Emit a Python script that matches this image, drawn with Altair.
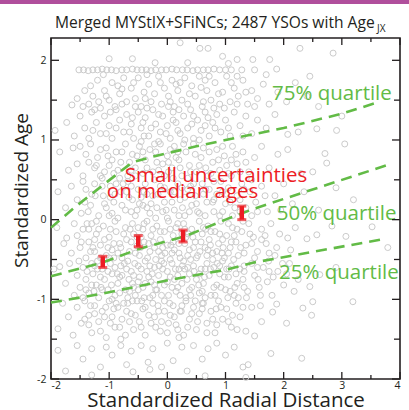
import altair as alt
import pandas as pd

W, H = 349, 341

# ---------------- data ----------------
scatter_pts = [
    # band at the upper age limit
    (-1.52,1.88),(-1.44,1.88),(-1.36,1.87),(-1.28,1.88),(-1.2,1.88),(-1.12,1.89),(-1.04,1.88),(-0.96,1.88),
    (-0.88,1.87),(-0.78,1.88),(-0.7,1.88),(-0.6,1.89),(-0.52,1.88),(-0.44,1.88),(-0.36,1.88),(-0.28,1.87),
    (-0.2,1.88),(-0.1,1.88),(-0.02,1.88),(0.08,1.89),(0.16,1.88),(0.26,1.88),(0.34,1.88),(0.44,1.87),
    (0.52,1.88),(0.62,1.88),(0.7,1.88),(0.8,1.89),(0.9,1.88),(1.0,1.88),(1.1,1.88),(1.28,1.88),(1.5,1.88),(1.88,1.89),
    # above the band
    (-1.0,2.02),(-0.21,1.97),(0.22,2.22),(0.56,2.15),(0.7,2.15),(0.35,1.97),(1.2,2.01),(1.47,2.01),(1.76,2.01),
    (2.28,2.15),(2.85,2.09),(0.95,2.05),(-0.6,2.02),(1.05,1.96),
    # 1.4 .. 1.85
    (-1.64,1.44),(-1.55,1.52),(-1.42,1.62),(-1.35,1.45),(-1.28,1.55),(-1.2,1.75),(-1.15,1.4),(-1.08,1.62),
    (-1.0,1.5),(-0.95,1.72),(-0.9,1.42),(-0.82,1.58),(-0.75,1.78),(-0.7,1.48),(-0.62,1.65),(-0.55,1.52),
    (-0.5,1.78),(-0.45,1.42),(-0.4,1.6),(-0.32,1.7),(-0.28,1.48),(-0.22,1.58),(-0.15,1.8),(-0.1,1.45),
    (-0.05,1.65),(0.02,1.55),(0.08,1.75),(0.12,1.42),(0.18,1.62),(0.25,1.5),(0.3,1.78),(0.35,1.45),
    (0.42,1.68),(0.48,1.55),(0.55,1.8),(0.6,1.42),(0.68,1.62),(0.75,1.5),(0.82,1.72),(0.9,1.45),
    (0.95,1.6),(1.02,1.8),(1.08,1.48),(1.15,1.65),(1.22,1.55),(1.3,1.75),(1.38,1.45),(1.45,1.62),
    (1.55,1.52),(1.65,1.7),(1.75,1.45),(1.9,1.6),(2.05,1.48),(2.2,1.72),(2.4,1.55),(2.6,1.42),
    (-0.85,1.68),(-0.35,1.82),(0.15,1.7),(0.65,1.75),(-1.1,1.82),(1.2,1.8),(1.7,1.82),(2.45,1.8),
    (-1.32,1.68),(-1.05,1.55),(-0.78,1.64),(-0.58,1.72),(-0.38,1.52),(-0.12,1.72),(0.05,1.48),(0.22,1.72),
    (0.38,1.58),(0.58,1.66),(0.72,1.8),(0.88,1.58),(1.1,1.72),(1.35,1.6),
    # 1.0 .. 1.4
    (-1.93,1.12),(-1.73,1.22),(-1.6,1.05),(-1.5,1.3),(-1.42,1.15),(-1.35,1.02),(-1.3,1.35),(-1.22,1.22),
    (-1.15,1.08),(-1.08,1.3),(-1.0,1.18),(-0.95,1.02),(-0.88,1.38),(-0.82,1.25),(-0.75,1.1),(-0.7,1.32),
    (-0.62,1.2),(-0.58,1.02),(-0.5,1.35),(-0.45,1.15),(-0.38,1.28),(-0.32,1.05),(-0.25,1.38),(-0.2,1.2),
    (-0.12,1.1),(-0.08,1.3),(0.0,1.18),(0.05,1.02),(0.1,1.35),(0.15,1.22),(0.22,1.08),(0.28,1.3),
    (0.35,1.15),(0.4,1.38),(0.45,1.02),(0.52,1.25),(0.58,1.12),(0.65,1.35),(0.72,1.05),(0.78,1.22),
    (0.85,1.32),(0.92,1.1),(1.0,1.25),(1.08,1.05),(1.15,1.35),(1.25,1.18),(1.35,1.3),(1.45,1.08),
    (1.55,1.25),(1.7,1.15),(1.85,1.32),(2.07,1.07),(2.25,1.1),(2.57,1.14),(2.91,1.12),(3.0,1.3),
    (-0.6,1.28),(0.3,1.0),(-1.25,1.38),(0.65,1.18),
    (-1.45,1.42),(-1.18,1.48),(-0.98,1.35),(-0.78,1.45),(-0.55,1.42),(-0.35,1.4),(-0.15,1.32),(0.02,1.42),
    (0.2,1.38),(0.45,1.3),(0.62,1.48),(0.8,1.4),(0.98,1.4),(1.2,1.45),(1.5,1.42),(-0.42,1.22),(0.1,1.25),(0.7,1.28),
    (-1.28,1.12),(-1.05,1.08),(-0.88,1.15),(-0.65,1.1),(-0.4,1.05),(-0.28,1.15),(-0.02,1.08),(0.18,1.12),
    (0.42,1.2),(0.55,1.0),(0.82,1.15),(1.05,1.15),(1.3,1.05),(-0.15,0.98),
    # 0.5 .. 1.0
    (-1.85,0.85),(-1.7,0.62),(-1.62,0.9),(-1.55,0.7),(-1.45,0.55),(-1.4,0.82),(-1.32,0.95),(-1.25,0.65),
    (-1.2,0.78),(-1.12,0.52),(-1.05,0.9),(-1.0,0.68),(-0.92,0.58),(-0.88,0.85),(-0.8,0.72),(-0.72,0.95),
    (-0.68,0.55),(-0.6,0.82),(-0.55,0.65),(-0.48,0.92),(-0.42,0.58),(-0.38,0.75),(-0.3,0.88),(-0.25,0.6),
    (-0.18,0.72),(-0.12,0.95),(-0.05,0.55),(0.0,0.8),(0.08,0.65),(0.12,0.92),(0.2,0.75),(0.25,0.55),
    (0.32,0.85),(0.38,0.68),(0.45,0.95),(0.5,0.6),(0.58,0.78),(0.62,0.9),(0.7,0.55),(0.78,0.72),
    (0.85,0.88),(0.9,0.62),(0.98,0.8),(1.05,0.58),(1.12,0.92),(1.2,0.7),(1.3,0.85),(1.4,0.6),
    (1.5,0.78),(1.62,0.92),(1.75,0.65),(1.9,0.82),(2.07,0.88),(2.3,0.58),(2.5,0.6),(2.74,0.71),
    (2.71,0.83),(3.05,0.95),(-0.95,0.75),(0.35,0.52),(-0.2,0.85),
    (-1.5,0.92),(-1.35,0.72),(-1.15,0.88),(-1.02,0.8),(-0.85,0.62),(-0.65,0.72),(-0.52,0.8),(-0.35,0.65),
    (-0.22,0.95),(-0.08,0.7),(0.05,0.88),(0.22,0.65),(0.28,0.95),(0.48,0.82),(0.55,0.68),(0.72,0.85),
    (0.88,0.75),(1.02,0.68),(1.18,0.82),(1.35,0.72),(-0.45,0.98),(0.15,0.78),
    (-1.22,0.68),(-1.08,0.6),(-0.78,0.85),(-0.62,0.62),(-0.42,0.85),(-0.15,0.62),(0.02,0.72),(0.18,0.85),
    (0.4,0.6),(0.66,0.65),(0.95,0.92),(1.1,0.75),(1.25,0.6),
    # 0.0 .. 0.5
    (-1.88,0.35),(-1.75,0.15),(-1.65,0.42),(-1.55,0.25),(-1.48,0.08),(-1.4,0.38),(-1.32,0.18),(-1.25,0.45),
    (-1.18,0.05),(-1.1,0.3),(-1.05,0.15),(-0.98,0.42),(-0.92,0.22),(-0.85,0.02),(-0.8,0.35),(-0.72,0.12),
    (-0.68,0.48),(-0.6,0.25),(-0.55,0.05),(-0.5,0.38),(-0.42,0.18),(-0.38,0.45),(-0.3,0.08),(-0.25,0.3),
    (-0.18,0.15),(-0.12,0.42),(-0.05,0.22),(0.0,0.02),(0.05,0.35),(0.12,0.12),(0.18,0.45),(0.22,0.25),
    (0.3,0.05),(0.35,0.38),(0.42,0.18),(0.48,0.3),(0.55,0.08),(0.6,0.45),(0.68,0.22),(0.72,0.38),
    (0.8,0.1),(0.85,0.32),(0.92,0.48),(1.0,0.2),(1.05,0.4),(1.12,0.05),(1.2,0.3),(1.28,0.45),
    (1.35,0.15),(1.42,0.35),(1.52,0.22),(1.62,0.42),(1.72,0.1),(1.85,0.3),(2.0,0.45),(2.15,0.2),
    (2.35,0.35),(2.6,0.12),(2.9,0.4),(3.2,0.25),(-0.88,0.45),(0.25,0.4),(0.8,0.48),(-0.45,0.28),
    (-1.45,0.48),(-1.3,0.32),(-1.15,0.55),(-0.98,0.28),(-0.82,0.52),(-0.7,0.35),(-0.55,0.55),(-0.35,0.32),
    (-0.22,0.5),(-0.05,0.4),(0.1,0.52),(0.3,0.28),(0.45,0.45),(0.62,0.32),(0.75,0.58),(0.95,0.35),
    (1.1,0.55),(1.25,0.25),(1.45,0.5),(-0.62,0.42),(0.02,0.6),
    (-1.42,0.22),(-1.22,-0.02),(-1.08,0.2),(-0.95,0.08),(-0.78,0.18),(-0.62,0.1),(-0.48,0.2),(-0.35,0.15),
    (-0.2,0.02),(-0.08,0.1),(0.08,0.22),(0.2,0.05),(0.38,0.1),(0.5,0.2),(0.65,0.05),(0.78,0.22),
    (0.95,0.1),(1.08,0.22),(1.25,0.1),(1.45,0.05),(-1.35,-0.12),(-0.5,-0.1),(0.18,-0.05),(0.62,-0.1),(1.05,-0.05),
    (-1.36,0.1),(-1.24,0.3),(-1.12,0.42),(-1.0,0.05),(-0.9,0.32),(-0.76,0.45),(-0.66,0.28),(-0.52,0.12),
    (-0.4,0.35),(-0.28,0.2),(-0.16,0.32),(-0.02,0.12),(0.12,0.35),(0.26,0.15),(0.4,0.42),(0.52,0.1),
    (0.66,0.38),(0.8,0.25),(0.9,0.05),(1.02,0.32),(1.16,0.15),(1.32,0.38),(1.55,0.1),(1.68,0.3),(1.95,0.12),
    # -0.5 .. 0.0
    (-1.9,-0.1),(-1.78,-0.3),(-1.73,-0.23),(-1.65,-0.42),(-1.6,-0.05),(-1.55,-0.2),(-1.5,-0.35),(-1.45,-0.12),
    (-1.4,-0.48),(-1.35,-0.28),(-1.3,-0.05),(-1.25,-0.4),(-1.22,-0.18),(-1.15,-0.32),(-1.1,-0.08),(-1.05,-0.45),
    (-1.0,-0.22),(-0.95,-0.38),(-0.9,-0.02),(-0.88,-0.15),(-0.82,-0.3),(-0.78,-0.48),(-0.72,-0.1),(-0.7,-0.25),
    (-0.65,-0.4),(-0.6,-0.05),(-0.58,-0.18),(-0.52,-0.33),(-0.48,-0.45),(-0.42,-0.12),(-0.4,-0.28),(-0.35,-0.02),
    (-0.3,-0.4),(-0.28,-0.2),(-0.22,-0.35),(-0.18,-0.08),(-0.12,-0.25),(-0.1,-0.45),(-0.05,-0.15),(0.0,-0.32),
    (0.02,-0.02),(0.08,-0.42),(0.1,-0.2),(0.15,-0.1),(0.2,-0.3),(0.22,-0.48),(0.28,-0.05),(0.32,-0.22),
    (0.38,-0.38),(0.42,-0.12),(0.48,-0.28),(0.52,-0.45),(0.55,-0.02),(0.6,-0.18),(0.65,-0.35),(0.7,-0.08),
    (0.72,-0.25),(0.78,-0.42),(0.82,-0.15),(0.88,-0.3),(0.92,-0.02),(0.98,-0.48),(1.02,-0.2),(1.08,-0.35),
    (1.12,-0.1),(1.18,-0.28),(1.22,-0.45),(1.28,-0.15),(1.35,-0.32),(1.4,-0.05),(1.48,-0.22),(1.55,-0.4),
    (1.62,-0.12),(1.7,-0.3),(1.78,-0.05),(1.85,-0.45),(1.93,-0.18),(2.07,-0.23),(2.2,-0.1),(2.4,-0.24),
    (2.57,-0.19),(2.83,-0.08),(3.07,-0.21),(3.52,-0.09),(3.79,-0.35),(-1.25,-0.25),(-0.62,-0.28),(0.35,-0.45),
    (0.85,-0.4),(-0.15,-0.4),(1.3,-0.02),
    (-1.48,-0.28),(-1.32,-0.4),(-1.18,-0.12),(-1.08,-0.25),(-0.92,-0.3),(-0.85,-0.42),(-0.75,-0.18),(-0.55,-0.42),
    (-0.45,-0.22),(-0.32,-0.3),(-0.25,-0.12),(-0.08,-0.35),(0.05,-0.12),(0.12,-0.38),(0.25,-0.18),(0.45,-0.35),
    (0.58,-0.28),(0.68,-0.45),(0.75,-0.15),(0.95,-0.25),(1.05,-0.42),(1.15,-0.2),(1.32,-0.42),(1.45,-0.3),
    (1.62,-0.25),(1.75,-0.42),(-1.0,-0.48),(0.3,-0.3),
    (-1.38,-0.05),(-1.28,-0.35),(-0.98,-0.12),(-0.92,-0.48),(-0.64,-0.12),(-0.4,-0.05),(-0.34,-0.48),(-0.12,-0.15),
    (0.1,-0.28),(0.3,-0.12),(0.44,-0.22),(0.5,-0.48),(0.66,-0.12),(0.7,-0.38),(0.9,-0.18),(0.94,-0.42),
    (1.1,-0.28),(1.14,-0.5),(1.2,-0.12),(1.26,-0.35),(1.42,-0.18),(1.5,-0.48),(1.68,-0.2),(1.88,-0.35),
    (2.12,-0.38),(-1.15,-0.48),(-1.02,-0.35),(-0.8,-0.35),(-0.52,-0.22),(-0.46,-0.35),(-0.24,-0.28),(-0.04,-0.42),
    (0.06,-0.32),(0.2,-0.42),(0.36,-0.18),(0.56,-0.4),(0.74,-0.32),(0.96,-0.35),
    # -1.0 .. -0.5
    (-1.95,-0.62),(-1.85,-0.59),(-1.75,-0.8),(-1.68,-0.55),(-1.6,-0.95),(-1.55,-0.7),(-1.5,-0.85),(-1.45,-0.6),
    (-1.4,-0.75),(-1.35,-0.92),(-1.3,-0.55),(-1.28,-0.68),(-1.22,-0.82),(-1.18,-0.98),(-1.12,-0.62),(-1.08,-0.75),
    (-1.02,-0.88),(-0.98,-0.55),(-0.95,-0.68),(-0.9,-0.95),(-0.85,-0.8),(-0.8,-0.58),(-0.78,-0.7),(-0.72,-0.88),
    (-0.68,-0.52),(-0.62,-0.65),(-0.6,-0.8),(-0.55,-0.95),(-0.5,-0.58),(-0.48,-0.72),(-0.42,-0.85),(-0.38,-0.52),
    (-0.35,-0.65),(-0.3,-0.98),(-0.28,-0.78),(-0.22,-0.6),(-0.18,-0.88),(-0.15,-0.7),(-0.1,-0.52),(-0.05,-0.82),
    (0.0,-0.65),(0.02,-0.95),(0.08,-0.55),(0.12,-0.75),(0.15,-0.9),(0.2,-0.62),(0.25,-0.8),(0.28,-0.52),
    (0.32,-0.98),(0.38,-0.68),(0.42,-0.85),(0.45,-0.58),(0.5,-0.75),(0.55,-0.92),(0.58,-0.62),(0.62,-0.8),
    (0.68,-0.55),(0.72,-0.7),(0.75,-0.95),(0.8,-0.6),(0.85,-0.82),(0.9,-0.68),(0.95,-0.52),(1.0,-0.88),
    (1.05,-0.72),(1.1,-0.58),(1.15,-0.95),(1.2,-0.8),(1.25,-0.62),(1.3,-0.75),(1.38,-0.9),(1.45,-0.55),
    (1.5,-0.7),(1.58,-0.85),(1.65,-0.6),(1.72,-0.78),(1.8,-0.95),(1.9,-0.65),(2.0,-0.82),(2.1,-0.55),
    (2.25,-0.75),(2.45,-0.84),(2.62,-0.69),(2.9,-0.6),(-0.65,-0.9),(0.05,-0.72),(0.65,-0.98),(-1.2,-0.52),
    (-0.25,-0.95),(0.35,-0.6),(1.22,-0.98),
    (-1.52,-0.52),(-1.38,-0.65),(-1.25,-0.58),(-1.15,-0.72),(-1.02,-0.65),(-0.9,-0.6),(-0.82,-0.72),(-0.7,-0.62),
    (-0.58,-0.7),(-0.45,-0.62),(-0.32,-0.72),(-0.2,-0.5),(-0.08,-0.62),(0.05,-0.5),(0.18,-0.7),(0.3,-0.62),
    (0.4,-0.5),(0.55,-0.68),(0.65,-0.62),(0.78,-0.5),(0.9,-0.58),(1.02,-0.62),(1.18,-0.68),(1.32,-0.58),
    (1.55,-0.6),(1.75,-0.65),(2.05,-0.68),
    (-1.45,-0.98),(-1.3,-0.82),(-1.12,-0.88),(-0.95,-1.0),(-0.82,-0.92),(-0.68,-0.98),(-0.5,-0.88),(-0.4,-0.98),
    (-0.22,-0.82),(-0.1,-0.95),(0.08,-0.85),(0.22,-0.95),(0.38,-0.88),(0.48,-1.02),(0.6,-0.9),(0.82,-0.95),
    (0.92,-0.85),(1.08,-0.9),(1.32,-0.85),(1.6,-0.95),(-0.58,-0.85),
    (-1.2,-0.62),(-1.14,-0.85),(-0.86,-0.68),(-0.56,-0.55),(-0.5,-0.78),(-0.26,-0.68),(-0.2,-0.88),(-0.06,-0.55),
    (0.0,-0.78),(0.14,-0.62),(0.18,-0.85),(0.34,-0.75),(0.4,-0.95),(0.54,-0.82),(0.74,-0.62),(0.8,-0.85),
    (0.98,-0.72),(1.04,-0.98),(1.32,-0.65),(1.56,-0.75),(1.74,-0.52),(1.82,-0.72),(1.98,-0.55),(2.18,-0.9),
    (-1.4,-0.88),(-1.26,-0.9),(-0.96,-0.82),(-0.74,-0.55),(-0.66,-0.75),(-0.38,-0.8),(-0.3,-0.58),(-0.14,-0.58),
    (0.26,-0.58),(0.46,-0.65),(0.64,-0.72),(0.86,-0.55),(1.06,-0.62),(1.16,-0.85),(1.36,-0.98),
    # -1.5 .. -1.0
    (-1.88,-1.37),(-1.8,-1.05),(-1.7,-1.22),(-1.62,-1.45),(-1.55,-1.1),(-1.48,-1.3),(-1.42,-1.02),(-1.35,-1.2),
    (-1.3,-1.42),(-1.25,-1.08),(-1.18,-1.28),(-1.12,-1.15),(-1.05,-1.48),(-1.0,-1.02),(-0.95,-1.22),(-0.9,-1.35),
    (-0.85,-1.1),(-0.78,-1.25),(-0.72,-1.45),(-0.68,-1.05),(-0.62,-1.18),(-0.58,-1.38),(-0.52,-1.02),(-0.48,-1.28),
    (-0.42,-1.12),(-0.38,-1.45),(-0.32,-1.2),(-0.25,-1.05),(-0.2,-1.35),(-0.15,-1.15),(-0.1,-1.28),(-0.05,-1.02),
    (0.0,-1.42),(0.05,-1.2),(0.1,-1.08),(0.15,-1.32),(0.22,-1.15),(0.28,-1.45),(0.32,-1.02),(0.38,-1.25),
    (0.45,-1.1),(0.5,-1.38),(0.55,-1.18),(0.62,-1.05),(0.68,-1.3),(0.75,-1.15),(0.82,-1.42),(0.88,-1.02),
    (0.95,-1.25),(1.02,-1.12),(1.1,-1.35),(1.18,-1.05),(1.25,-1.22),(1.35,-1.4),(1.45,-1.1),(1.5,-1.46),
    (1.62,-1.28),(1.81,-1.16),(1.88,-1.06),(2.05,-1.3),(2.33,-1.11),(2.48,-1.2),(2.5,-1.03),(3.19,-1.03),
    (-0.8,-1.5),(0.2,-1.48),
    (-1.42,-1.25),(-1.25,-1.18),(-1.08,-1.22),(-0.92,-1.12),(-0.75,-1.05),(-0.55,-1.2),(-0.38,-1.1),(-0.22,-1.22),
    (-0.05,-1.15),(0.12,-1.22),(0.25,-1.08),(0.42,-1.18),(0.6,-1.12),(0.78,-1.25),(0.92,-1.1),(1.12,-1.2),(1.3,-1.1),
    (-1.32,-1.08),(-1.06,-1.1),(-0.88,-1.05),(-0.7,-1.15),(-0.6,-1.02),(-0.44,-1.02),(-0.16,-1.08),(0.04,-1.05),
    (0.24,-1.15),(0.6,-1.05),(0.84,-1.12),(1.6,-1.08),
    (-1.35,-1.32),(-1.15,-1.4),(-0.98,-1.3),(-0.82,-1.35),(-0.65,-1.28),(-0.45,-1.35),(-0.28,-1.3),(-0.12,-1.4),
    (0.02,-1.3),(0.18,-1.38),(0.35,-1.35),(0.52,-1.28),(0.68,-1.42),(0.85,-1.32),(1.05,-1.28),(1.2,-1.38),
    # -2.0 .. -1.5
    (-1.88,-1.64),(-1.75,-1.9),(-1.55,-1.58),(-1.45,-1.75),(-1.3,-1.62),(-1.15,-1.85),(-1.05,-1.6),(-0.95,-1.7),
    (-0.8,-1.58),(-0.7,-1.82),(-0.62,-1.65),(-0.59,-1.91),(-0.45,-1.58),(-0.33,-1.79),(-0.25,-1.62),(-0.1,-1.85),
    (0.0,-1.55),(0.1,-1.77),(0.25,-1.6),(0.34,-1.9),(0.45,-1.58),(0.6,-1.75),(0.7,-1.62),(0.85,-1.55),
    (1.0,-1.7),(1.15,-1.6),(1.3,-1.85),(1.35,-1.98),(1.39,-1.82),(1.78,-1.68),(2.31,-1.74),(-0.3,-1.88),
    (0.65,-1.96),(-1.3,-1.95),
]

q75_x = [-2.0, -1.6, -1.2, -0.85, -0.6, -0.2, 0.5, 1.0, 2.0, 3.0, 3.65]
q75_y = [-0.1, 0.15, 0.38, 0.58, 0.72, 0.8, 0.92, 1.0, 1.15, 1.33, 1.48]
q50_x = [-2.0, -1.12, -0.5, 0.3, 1.0, 1.5, 3.8]
q50_y = [-0.71, -0.54, -0.37, -0.21, 0.0, 0.14, 0.69]
q25_x = [-2.0, -1.2, 0.08, 1.0, 1.47, 3.75]
q25_y = [-1.04, -0.94, -0.75, -0.63, -0.54, -0.24]

med_x = [-1.11, -0.5, 0.27, 1.28]
med_lo = [-0.6, -0.34, -0.28, 0.0]
med_hi = [-0.46, -0.2, -0.13, 0.17]

x_major = [-2, -1, 0, 1, 2, 3, 4]
x_minor = [-1.5, -0.5, 0.5, 1.5, 2.5, 3.5]
y_major = [-2, -1, 0, 1, 2]
y_minor = [-1.5, -0.5, 0.5, 1.5]

red_notes = [("Small uncertainties", -0.73, 0.475), ("on median ages", -1.04, 0.275)]
green_notes = [("75% quartile", 1.80, 1.5), ("50% quartile", 1.88, 0.0), ("25% quartile", 1.92, -0.75)]

title_main = "Merged MYStIX+SFiNCs; 2487 YSOs with Age"
title_sub = "JX"

# ---------------- styling ----------------
FONT = "Open Sans"
GREEN = "#62bb46"
RED = "#ed1c24"
GRAY = "#cbcbcb"
INK = "#231f20"

xs = alt.Scale(domain=[-2, 4], nice=False, zero=False)
ys = alt.Scale(domain=[-2, 2.28], nice=False, zero=False)

pts = pd.DataFrame(scatter_pts, columns=["x", "y"])
xenc = alt.X("x:Q", scale=xs,
             axis=alt.Axis(values=x_major, labelExpr="'' + datum.value", ticks=False, domain=False,
                           grid=False, labelFontSize=10.5, labelColor=INK, labelFont=FONT, labelPadding=1,
                           title="Standardized Radial Distance", titleFont=FONT, titleFontSize=20.5,
                           titleFontWeight="normal", titleColor=INK, titleY=27, titleBaseline="alphabetic"))
yenc = alt.Y("y:Q", scale=ys,
             axis=alt.Axis(values=y_major, labelExpr="'' + datum.value", ticks=False, domain=False,
                           grid=False, labelFontSize=10.5, labelColor=INK, labelFont=FONT, labelPadding=5,
                           title="Standardized Age", titleFont=FONT, titleFontSize=19,
                           titleFontWeight="normal", titleColor=INK, titleAngle=-90,
                           titleX=-30, titleY=152, titleAlign="center", titleBaseline="middle"))

scatter = alt.Chart(pts).mark_point(shape="circle", filled=False, size=36, strokeWidth=1,
                                    color=GRAY, opacity=1).encode(x=xenc, y=yenc)

qdf = pd.concat([
    pd.DataFrame({"x": q75_x, "y": q75_y, "q": "75"}),
    pd.DataFrame({"x": q50_x, "y": q50_y, "q": "50"}),
    pd.DataFrame({"x": q25_x, "y": q25_y, "q": "25"}),
])
qlines = alt.Chart(qdf).mark_line(color=GREEN, strokeWidth=2.6, strokeDash=[11, 7]).encode(
    x=alt.X("x:Q", scale=xs), y=alt.Y("y:Q", scale=ys), detail="q:N")

mdf = pd.DataFrame({"x": med_x, "lo": med_lo, "hi": med_hi})
ebar = alt.Chart(mdf).mark_rule(color=RED, strokeWidth=4.5).encode(
    x=alt.X("x:Q", scale=xs), y=alt.Y("lo:Q", scale=ys), y2="hi:Q")
cap_lo = alt.Chart(mdf).mark_tick(color=RED, orient="horizontal", size=9, thickness=3).encode(
    x=alt.X("x:Q", scale=xs), y=alt.Y("lo:Q", scale=ys))
cap_hi = alt.Chart(mdf).mark_tick(color=RED, orient="horizontal", size=9, thickness=3).encode(
    x=alt.X("x:Q", scale=xs), y=alt.Y("hi:Q", scale=ys))

rdf = pd.DataFrame(red_notes, columns=["t", "x", "y"])
red_text = alt.Chart(rdf).mark_text(color=RED, font=FONT, fontSize=20.5, align="left",
                                    baseline="alphabetic").encode(
    x=alt.X("x:Q", scale=xs), y=alt.Y("y:Q", scale=ys), text="t:N")
gdf = pd.DataFrame(green_notes, columns=["t", "x", "y"])
green_text = alt.Chart(gdf).mark_text(color=GREEN, font=FONT, fontSize=20.5, align="left",
                                      baseline="alphabetic").encode(
    x=alt.X("x:Q", scale=xs), y=alt.Y("y:Q", scale=ys), text="t:N")

# inward ticks on all four sides
xmaj = pd.DataFrame({"v": x_major})
xmin = pd.DataFrame({"v": x_minor})
ymaj = pd.DataFrame({"v": y_major})
ymin = pd.DataFrame({"v": y_minor})
tick_style = dict(color=INK, strokeWidth=1.3)
ticks = [
    alt.Chart(xmaj).mark_rule(**tick_style).encode(x=alt.X("v:Q", scale=xs), y=alt.value(H), y2=alt.value(H - 7)),
    alt.Chart(xmin).mark_rule(**tick_style).encode(x=alt.X("v:Q", scale=xs), y=alt.value(H), y2=alt.value(H - 4)),
    alt.Chart(xmaj).mark_rule(**tick_style).encode(x=alt.X("v:Q", scale=xs), y=alt.value(0), y2=alt.value(7)),
    alt.Chart(xmin).mark_rule(**tick_style).encode(x=alt.X("v:Q", scale=xs), y=alt.value(0), y2=alt.value(4)),
    alt.Chart(ymaj).mark_rule(**tick_style).encode(y=alt.Y("v:Q", scale=ys), x=alt.value(0), x2=alt.value(8)),
    alt.Chart(ymin).mark_rule(**tick_style).encode(y=alt.Y("v:Q", scale=ys), x=alt.value(0), x2=alt.value(6)),
    alt.Chart(ymaj).mark_rule(**tick_style).encode(y=alt.Y("v:Q", scale=ys), x=alt.value(W), x2=alt.value(W - 8)),
    alt.Chart(ymin).mark_rule(**tick_style).encode(y=alt.Y("v:Q", scale=ys), x=alt.value(W), x2=alt.value(W - 6)),
]

tdf = pd.DataFrame({"t": [title_main]})
title_txt = alt.Chart(tdf).mark_text(color=INK, font=FONT, fontSize=15.6, align="left",
                                     baseline="alphabetic").encode(
    x=alt.value(4), y=alt.value(-10), text="t:N")
sdf = pd.DataFrame({"t": [title_sub]})
sub_txt = alt.Chart(sdf).mark_text(color=INK, font=FONT, fontSize=10, align="left",
                                   baseline="alphabetic").encode(
    x=alt.value(326), y=alt.value(-6), text="t:N")
bar = alt.Chart(tdf).mark_rect(color="#b04f9c").encode(
    x=alt.value(-51), x2=alt.value(W + 9), y=alt.value(-38), y2=alt.value(-34))

chart = alt.layer(
    scatter, qlines, ebar, cap_lo, cap_hi, red_text, green_text, *ticks, title_txt, sub_txt, bar
).properties(
    width=W, height=H,
    autosize=alt.AutoSizeParams(type="none"),
    padding={"left": 51, "top": 38, "right": 9, "bottom": 31},
    background="white",
).configure_view(stroke=INK, strokeWidth=1.6)

chart.save("out.html", embed_options={"renderer": "svg", "actions": False})
